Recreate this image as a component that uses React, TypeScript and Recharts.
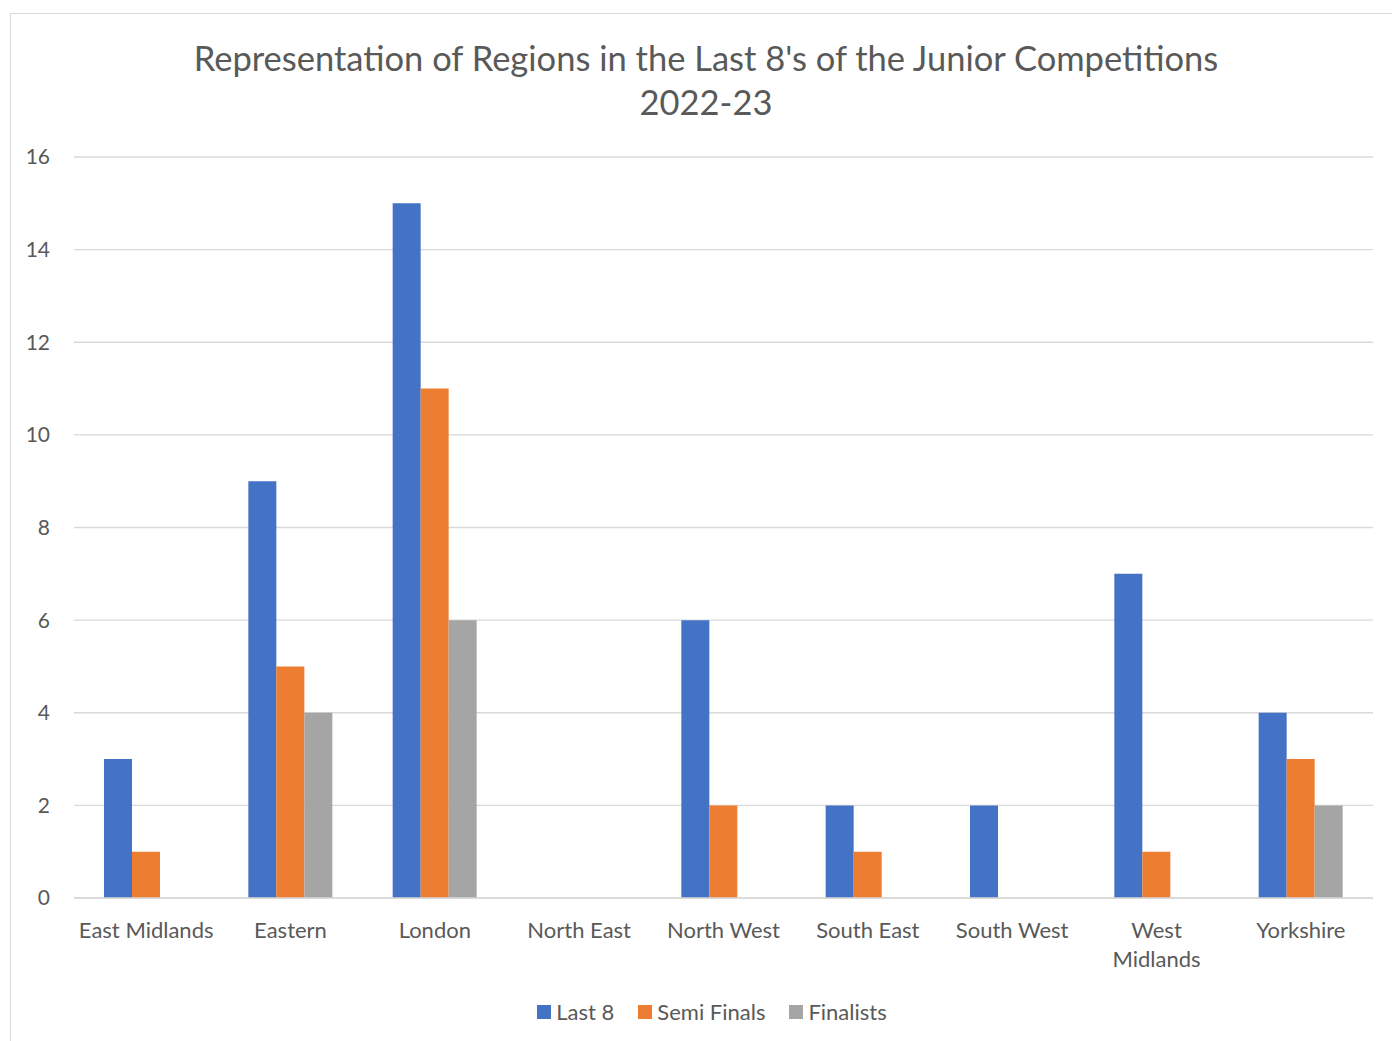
import React from "react";
import { BarChart, Bar, XAxis, YAxis, CartesianGrid } from "recharts";

const categories = ["East Midlands", "Eastern", "London", "North East", "North West", "South East", "South West", "West Midlands", "Yorkshire"];
const categoryLines = [["East Midlands"], ["Eastern"], ["London"], ["North East"], ["North West"], ["South East"], ["South West"], ["West", "Midlands"], ["Yorkshire"]];
const last8 = [3, 9, 15, 0, 6, 2, 2, 7, 4];
const semiFinals = [1, 5, 11, 0, 2, 1, 0, 1, 3];
const finalists = [0, 4, 6, 0, 0, 0, 0, 0, 2];
const yTicks = [0, 2, 4, 6, 8, 10, 12, 14, 16];
const seriesNames = ["Last 8", "Semi Finals", "Finalists"];
const seriesKeys = ["last8", "semi", "final"];
const seriesColors = ["#4472C4", "#ED7D31", "#A5A5A5"];
const titleLines = ["Representation of Regions in the Last 8's of the Junior Competitions", "2022-23"];

const data = categories.map((c, i) => ({
  name: c,
  last8: last8[i],
  semi: semiFinals[i],
  final: finalists[i],
}));

const FONT = "Lato, 'Open Sans', sans-serif";
const TEXT = "#595959";

const XTick = (props: any) => {
  const { x, y, payload } = props;
  const idx = categories.indexOf(payload.value);
  const lines = idx >= 0 ? categoryLines[idx] : [payload.value];
  return (
    <text x={x} y={y} textAnchor="middle" fill={TEXT} fontSize={22} fontFamily={FONT}>
      {lines.map((l: string, i: number) => (
        <tspan key={i} x={x} dy={i === 0 ? 38 : 29}>
          {l}
        </tspan>
      ))}
    </text>
  );
};

export default function App() {
  return (
    <div style={{ position: "absolute", left: 0, top: 0, width: 1392, height: 1041, overflow: "hidden", background: "#fff" }}>
      <div style={{ position: "absolute", left: 10, top: 13, width: 1500, height: 1200, border: "1px solid #D9D9D9", boxSizing: "border-box" }} />
      <div style={{ position: "absolute", left: 0, top: 36, width: 1412, textAlign: "center", fontFamily: FONT, fontSize: 34.5, color: TEXT, lineHeight: "44px" }}>
        {titleLines.map((t, i) => (
          <div key={i}>{t}</div>
        ))}
      </div>
      <div style={{ position: "absolute", left: 0, top: 0 }}>
        <BarChart
          width={1392}
          height={1041}
          data={data}
          margin={{ top: 157, right: 19, bottom: 83, left: 0 }}
          barGap={0}
          barSize={28}
        >
          <CartesianGrid vertical={false} stroke="#D9D9D9" strokeWidth={1.3} />
          <XAxis
            dataKey="name"
            axisLine={{ stroke: "#D9D9D9", strokeWidth: 1.3 }}
            tickLine={false}
            tickSize={0}
            height={60}
            interval={0}
            tick={<XTick />}
          />
          <YAxis
            width={74}
            domain={[0, 16]}
            ticks={yTicks}
            axisLine={false}
            tickLine={false}
            tickSize={0}
            tickMargin={24}
            tick={{ fill: TEXT, fontSize: 21, fontFamily: FONT }}
          />
          {seriesKeys.map((k, i) => (
            <Bar key={k} dataKey={k} name={seriesNames[i]} fill={seriesColors[i]} isAnimationActive={false} />
          ))}
        </BarChart>
      </div>
      <div style={{ position: "absolute", left: 6, top: 998, width: 1412, display: "flex", justifyContent: "center", fontFamily: FONT, fontSize: 22, color: TEXT }}>
        {seriesNames.map((n, i) => (
          <div key={n} style={{ display: "flex", alignItems: "center", marginRight: i < seriesNames.length - 1 ? 24 : 0 }}>
            <span style={{ display: "inline-block", width: 14, height: 14, background: seriesColors[i], marginRight: 5 }} />
            <span>{n}</span>
          </div>
        ))}
      </div>
    </div>
  );
}
